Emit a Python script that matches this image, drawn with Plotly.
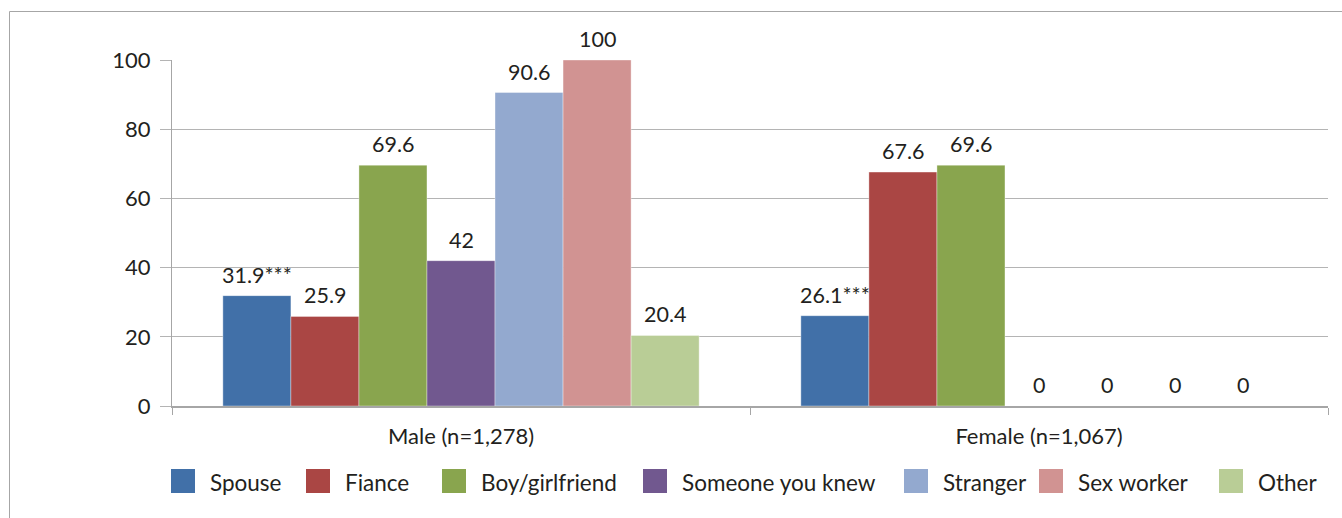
import plotly.graph_objects as go

# Data: share of respondents by type of partner
groups = ["Male (n=1,278)", "Female (n=1,067)"]
series = ["Spouse", "Fiance", "Boy/girlfriend", "Someone you knew",
          "Stranger", "Sex worker", "Other"]
male_values = [31.9, 25.9, 69.6, 42, 90.6, 100, 20.4]
female_values = [26.1, 67.6, 69.6, 0, 0, 0, 0]
male_labels = ["31.9***", "25.9", "69.6", "42", "90.6", "100", "20.4"]
female_labels = ["26.1***", "67.6", "69.6", "0", "0", "0", "0"]
y_ticks = [0, 20, 40, 60, 80, 100]

colors = ["#4170A8", "#AA4644", "#89A54E", "#71588F",
          "#93A9CF", "#D19392", "#B9CD96"]

FONT = "Lato"
TEXT = "#231f20"
GRID = "#b4b4b4"
BARGAP = 0.176

fig = go.Figure()
n = len(series)
w = (1 - BARGAP) / n
for i, name in enumerate(series):
    vals = [male_values[i], female_values[i]]
    fig.add_trace(go.Bar(
        name=name, x=groups, y=vals,
        marker=dict(color=colors[i], line=dict(color="rgba(255,255,255,0.6)", width=0.6)),
        showlegend=False, hoverinfo="skip",
    ))
    # value labels above each bar
    for g, (v, lab) in enumerate(zip(vals, [male_labels[i], female_labels[i]])):
        fig.add_annotation(
            x=g + (i - (n - 1) / 2) * w, y=v, xref="x", yref="y",
            text=lab, showarrow=False, yanchor="bottom", yshift=6,
            font=dict(family=FONT, size=21.5, color=TEXT),
        )

# hand-built legend row with large square swatches
legend_sq_x = [171, 306, 442, 643, 904, 1039, 1219]
W, H = 1342, 518
L, R, T, B = 172, 14, 60, 112
pw, ph = W - L - R, H - T - B


def px(x):
    return (x - L) / pw


def py(y):
    return (H - B - y) / ph


for i, name in enumerate(series):
    x0 = legend_sq_x[i]
    fig.add_shape(type="rect", xref="paper", yref="paper",
                  x0=px(x0), x1=px(x0 + 24), y0=py(493), y1=py(469),
                  fillcolor=colors[i], line=dict(width=0))
    fig.add_annotation(xref="paper", yref="paper", x=px(x0 + 37), y=py(482),
                       xanchor="left", yanchor="middle", showarrow=False,
                       text=name, font=dict(family=FONT, size=22.5, color=TEXT))

# outer frame (only its top and left edges fall inside the view)
fig.add_shape(type="rect", xref="paper", yref="paper",
              x0=px(9.5), x1=px(1360), y0=py(540), y1=py(11.5),
              line=dict(color="#a6a6a6", width=1), fillcolor="rgba(0,0,0,0)",
              layer="below")

fig.update_layout(
    width=W, height=H,
    margin=dict(l=L, r=R, t=T, b=B),
    paper_bgcolor="white", plot_bgcolor="white",
    barmode="group", bargap=BARGAP, bargroupgap=0,
    font=dict(family=FONT, size=21, color=TEXT),
    showlegend=False,
    xaxis=dict(
        type="category", showgrid=False,
        showline=True, linecolor="#a6a6a6", linewidth=2,
        ticks="outside", tickson="boundaries", ticklen=7,
        tickcolor="#a6a6a6", tickwidth=1, ticklabelstandoff=10,
        tickfont=dict(family=FONT, size=22, color=TEXT),
    ),
    yaxis=dict(
        range=[0, 100], tickvals=y_ticks, showgrid=True,
        gridcolor=GRID, gridwidth=1, zeroline=False,
        showline=True, linecolor="#a6a6a6", linewidth=1,
        ticks="outside", ticklen=11, tickcolor=GRID, tickwidth=1,
        ticklabelstandoff=5,
        tickfont=dict(family=FONT, size=22, color=TEXT),
    ),
)

fig.write_html("out.html")
